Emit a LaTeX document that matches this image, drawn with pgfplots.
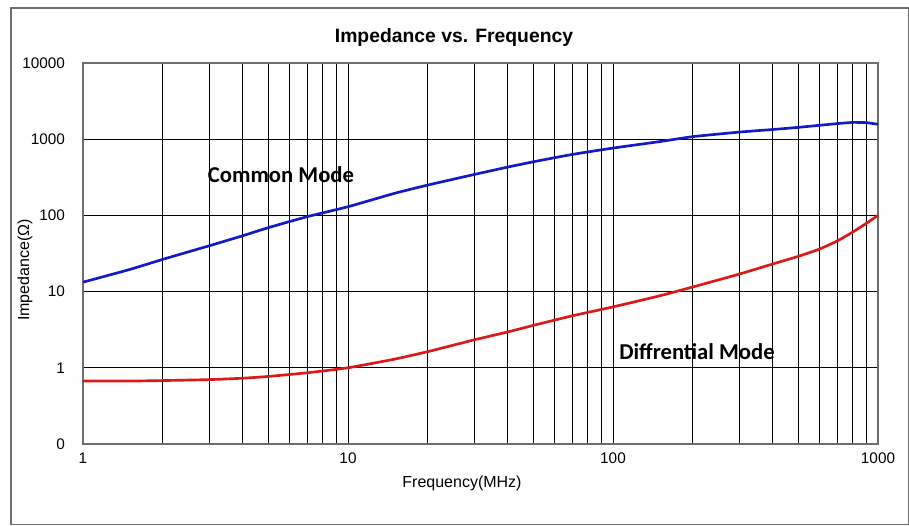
\documentclass[border=0pt]{standalone}
\usepackage{fontspec}
\setmainfont{Liberation Sans}
\newfontfamily\calibri{Carlito}
\usepackage{pgfplots}
\pgfplotsset{compat=1.18}
\definecolor{cmblue}{RGB}{20,25,200}
\definecolor{dmred}{RGB}{220,25,25}
\definecolor{frame}{RGB}{110,110,110}
\begin{document}
\begin{tikzpicture}
% page: 909x525 px, 1 px = 0.75pt, origin at lower-left of plot area
\path[use as bounding box] (-62.25pt,-60.75pt) rectangle (619.5pt,333pt);
\draw[frame, line width=0.9pt] (-54pt,-60.3pt) rectangle (619pt,327pt);
\begin{axis}[
    at={(0pt,0pt)}, anchor=south west,
    scale only axis,
    width=596.25pt, height=285.75pt,
    xmode=log, ymode=log,
    xmin=1, xmax=1000, ymin=0.1, ymax=10000,
    xtick={1,10,100,1000},
    xticklabels={1,10,100,1000},
    ytick={0.1,1,10,100,1000,10000},
    yticklabels={0,1,10,100,1000,10000},
    minor xtick={2,3,4,5,6,7,8,9,20,30,40,50,60,70,80,90,200,300,400,500,600,700,800,900},
    xmajorgrids, xminorgrids, ymajorgrids,
    grid style={black, line width=0.5pt},
    minor grid style={black, line width=0.5pt},
    major tick length=0pt, minor tick length=0pt,
    axis line style={frame, line width=1.2pt},
    tick label style={font=\fontsize{11.5}{13}\selectfont},
    /pgf/number format/assume math mode=true,
    xticklabel style={yshift=-3pt},
    yticklabel style={xshift=-10pt},
    clip=false,
]
\addplot[cmblue, line width=2pt, smooth, tension=0.3] coordinates {
(1,13.3)(1.5,19.5)(2,26.5)(3,40)(4,54)(5,69)(7,96)(10,130)(15,195)(20,250)(30,345)
(40,430)(50,505)(70,630)(100,765)(150,930)(200,1080)(300,1240)(400,1340)(500,1430)
(600,1520)(700,1600)(800,1660)(900,1650)(1000,1570)};
\addplot[dmred, line width=2pt, smooth, tension=0.3] coordinates {
(1,0.67)(1.5,0.67)(2,0.68)(3,0.70)(4,0.73)(5,0.77)(7,0.86)(10,1.0)(15,1.3)(20,1.63)
(30,2.33)(40,2.95)(50,3.6)(70,4.8)(100,6.3)(150,8.8)(200,11.5)(300,17)(400,23)
(500,29)(600,36)(700,46)(800,60)(900,78)(1000,100)};
\end{axis}
\node[font=\bfseries\fontsize{14.5}{17}\selectfont] at (278.25pt,305pt) {Impedance vs. Frequency};
\node[font=\fontsize{12}{14}\selectfont, rotate=90] at (-43.5pt,130.5pt) {Impedance(Ω)};
\node[font=\fontsize{12}{14}\selectfont] at (284.25pt,-29.25pt) {Frequency(MHz)};
\node[font=\calibri\bfseries\fontsize{17}{20}\selectfont] at (148.5pt,201.75pt) {Common Mode};
\node[font=\calibri\bfseries\fontsize{17}{20}\selectfont] at (460.5pt,69pt) {Diffrential Mode};
\end{tikzpicture}
\end{document}
